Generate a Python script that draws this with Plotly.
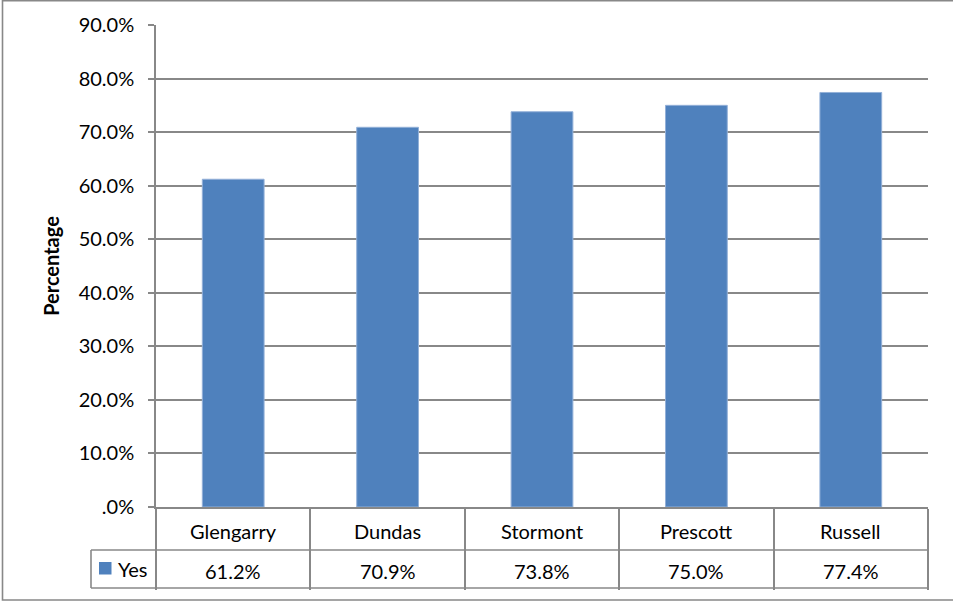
import plotly.graph_objects as go

categories = ["Glengarry", "Dundas", "Stormont", "Prescott", "Russell"]
yes_values = [61.2, 70.9, 73.8, 75.0, 77.4]
series_name = "Yes"
tick_values = [0, 10, 20, 30, 40, 50, 60, 70, 80, 90]
tick_labels = [".0%", "10.0%", "20.0%", "30.0%", "40.0%", "50.0%", "60.0%", "70.0%", "80.0%", "90.0%"]
y_title = "Percentage"

W, H = 953, 602
L, R, T, B = 156, 25, 25, 95
pw, ph = W - L - R, H - T - B

def px(xp):
    return (xp - L) / pw

def py(yp):
    return (H - B - yp) / ph

FONT = "Lato"
FS = 20
BAR = "#4F81BD"
LINE = "#888888"
LW = 1.6

fig = go.Figure()
fig.add_trace(go.Bar(
    x=categories, y=yes_values, name=series_name,
    marker=dict(color=BAR, line=dict(color="#93b0d8", width=1)),
    hoverinfo="x+y",
))

shapes = []
for yp in (550, 588):
    shapes.append(dict(type="line", xref="paper", yref="paper",
                       x0=px(91), x1=1, y0=py(yp), y1=py(yp),
                       line=dict(color=LINE, width=LW)))
shapes.append(dict(type="line", xref="paper", yref="paper",
                   x0=px(91), x1=px(91), y0=py(550), y1=py(588),
                   line=dict(color=LINE, width=LW)))
shapes.append(dict(type="rect", xref="paper", yref="paper",
                   x0=px(2.5), x1=px(960), y0=py(600), y1=py(0.7),
                   line=dict(color=LINE, width=LW)))
shapes.append(dict(type="rect", xref="paper", yref="paper",
                   x0=px(99), x1=px(111.5), y0=py(574.5), y1=py(562),
                   fillcolor=BAR, line=dict(width=0)))

annotations = []
for c, v in zip(categories, yes_values):
    annotations.append(dict(x=c, xref="x", y=py(531), yref="paper", text=c,
                            showarrow=False, yanchor="middle",
                            font=dict(family=FONT, size=FS, color="#000")))
    annotations.append(dict(x=c, xref="x", y=py(571), yref="paper", text=f"{v:.1f}%",
                            showarrow=False, yanchor="middle",
                            font=dict(family=FONT, size=FS, color="#000")))
annotations.append(dict(x=px(116), xref="paper", y=py(569), yref="paper", text=series_name,
                        showarrow=False, xanchor="left", yanchor="middle",
                        font=dict(family=FONT, size=FS, color="#000")))

fig.update_layout(
    width=W, height=H,
    margin=dict(l=L, r=R, t=T, b=B, pad=0),
    paper_bgcolor="white", plot_bgcolor="white",
    showlegend=False,
    bargap=0.6,
    font=dict(family=FONT, size=FS, color="#000"),
    shapes=shapes,
    annotations=annotations,
    xaxis=dict(
        showgrid=False, showline=True, linecolor=LINE, linewidth=LW,
        mirror=False, zeroline=False,
        ticks="outside", tickson="boundaries", ticklen=81, tickwidth=LW,
        tickcolor=LINE, showticklabels=False,
    ),
    yaxis=dict(
        range=[0, 90], tickvals=tick_values, ticktext=tick_labels,
        showgrid=True, gridcolor=LINE, gridwidth=LW,
        showline=True, linecolor=LINE, linewidth=LW, zeroline=False,
        ticks="outside", ticklen=6, tickwidth=LW, tickcolor=LINE,
        ticklabelstandoff=10,
        tickfont=dict(family=FONT, size=FS, color="#000"),
        title=dict(text=y_title, standoff=14,
                   font=dict(family=FONT, size=FS, color="#000", weight="bold")),
    ),
)

fig.write_html("out.html", config={"displayModeBar": False},
               post_script="document.body.style.margin='0';document.body.style.padding='0';")
